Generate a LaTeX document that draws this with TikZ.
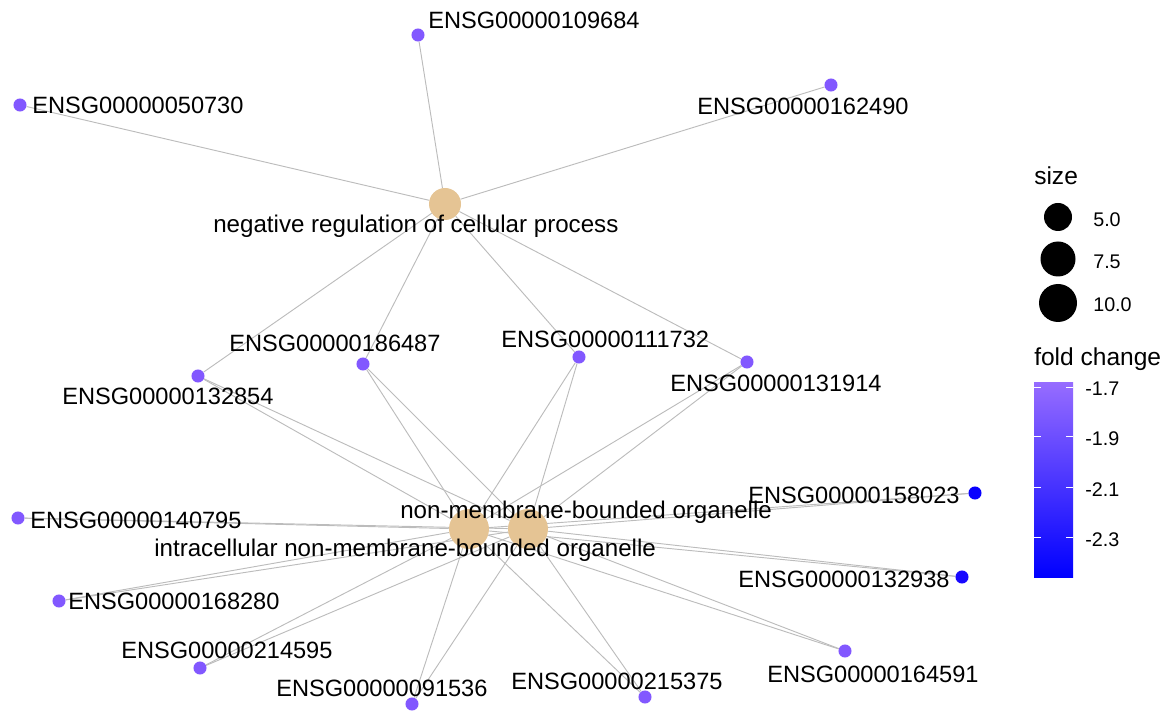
\documentclass[tikz,border=0pt]{standalone}
\usepackage{fontspec}
\setmainfont{Liberation Sans}
\pgfdeclarelayer{bg}
\pgfsetlayers{bg,main}
\definecolor{genecol}{RGB}{130,88,255}
\definecolor{bluea}{RGB}{8,0,255}
\definecolor{blueb}{RGB}{24,8,255}
\definecolor{catcol}{RGB}{229,196,148}
\definecolor{edgecol}{RGB}{188,188,188}
\definecolor{bartop}{RGB}{150,108,255}
\begin{document}
\begin{tikzpicture}[x=0.75pt,y=-0.75pt,
  gene/.style={circle, fill=genecol, minimum size=9.8pt, inner sep=0pt},
  cat/.style={circle, fill=catcol, inner sep=0pt},
  lab/.style={anchor=base west, inner sep=0pt, font=\fontsize{17.7}{20}\selectfont},
  catlab/.style={anchor=base west, inner sep=0pt, font=\fontsize{18.1}{20}\selectfont},
  edge/.style={draw=edgecol, line width=0.7pt},
  legtitle/.style={anchor=base west, inner sep=0pt, font=\fontsize{18.4}{21}\selectfont},
  leglab/.style={anchor=west, inner sep=0pt, font=\fontsize{14.8}{17}\selectfont},
  legdot/.style={circle, fill=black, inner sep=0pt},
  tickmark/.style={draw=white, line width=0.7pt}]
\useasboundingbox (0,0) rectangle (1170,712);

% category nodes
\node[cat, minimum size=24pt] (nr) at (445,204) {};
\node[cat, minimum size=30pt] (inb) at (469,529) {};
\node[cat, minimum size=30pt] (nmb) at (528,529) {};

% gene nodes
\node[gene] (g109684) at (418,35) {};
\node[gene] (g050730) at (20,105) {};
\node[gene] (g162490) at (831,85) {};
\node[gene] (g186487) at (363,364) {};
\node[gene] (g111732) at (579,357) {};
\node[gene] (g132854) at (198,376) {};
\node[gene] (g131914) at (747,362) {};
\node[gene] (g140795) at (18,518) {};
\node[gene] (g168280) at (59,601) {};
\node[gene] (g214595) at (200,668) {};
\node[gene] (g091536) at (412,704) {};
\node[gene] (g215375) at (645,697) {};
\node[gene] (g164591) at (845,651) {};
\node[gene, fill=blueb] (g132938) at (962,577) {};
\node[gene, fill=bluea] (g158023) at (975,493) {};

% edges
\begin{pgfonlayer}{bg}
\foreach \g in {g109684,g050730,g162490,g186487,g111732,g132854,g131914}
  \draw[edge] (\g) -- (nr);
\foreach \g in {g186487,g111732,g132854,g131914,g140795,g168280,g214595,g091536,g215375,g164591,g132938,g158023}{
  \draw[edge] (\g) -- (inb);
  \draw[edge] (\g) -- (nmb);
}
\end{pgfonlayer}

% labels
\node[lab] (l109684) at (428,29) {ENSG00000109684};
\node[lab] (l050730) at (32,114) {ENSG00000050730};
\node[lab] (l162490) at (697,115) {ENSG00000162490};
\node[catlab] (lnr) at (213,233) {negative regulation of cellular process};
\node[lab] (l186487) at (229,352) {ENSG00000186487};
\node[lab] (l111732) at (501,348) {ENSG00000111732};
\node[lab] (l132854) at (62,405) {ENSG00000132854};
\node[lab] (l131914) at (670,392) {ENSG00000131914};
\node[lab] (l158023) at (748,503) {ENSG00000158023};
\node[catlab] (lnmb) at (400,518) {non-membrane-bounded organelle};
\node[lab] (l140795) at (30,528) {ENSG00000140795};
\node[catlab] (linb) at (154,556) {intracellular non-membrane-bounded organelle};
\node[lab] (l132938) at (738,587) {ENSG00000132938};
\node[lab] (l168280) at (68,609) {ENSG00000168280};
\node[lab] (l214595) at (121,658) {ENSG00000214595};
\node[lab] (l164591) at (767,682) {ENSG00000164591};
\node[lab] (l091536) at (276,696) {ENSG00000091536};
\node[lab] (l215375) at (511,689) {ENSG00000215375};

% legend: size
\node[legtitle] (tsize) at (1034,185) {size};
\node[legdot, minimum size=21pt] (s1) at (1058,217) {};
\node[legdot, minimum size=26.25pt] (s2) at (1058,259) {};
\node[legdot, minimum size=28.5pt] (s3) at (1058,303) {};
\node[leglab] (ls1) at (1093,220) {5.0};
\node[leglab] (ls2) at (1093,262) {7.5};
\node[leglab] (ls3) at (1093,305) {10.0};

% legend: fold change
\node[legtitle] (tfc) at (1034,366) {fold change};
\node[rectangle, top color=bartop, bottom color=blue, minimum width=29.25pt, minimum height=145.5pt, inner sep=0pt, draw=none] (bar) at (1053.5,480) {};
\foreach \y in {387,436,487,537}{
  \draw[tickmark] (1034,\y) -- (1041,\y);
  \draw[tickmark] (1066,\y) -- (1073,\y);
}
\node[leglab] (lf1) at (1085,389) {-1.7};
\node[leglab] (lf2) at (1085,439) {-1.9};
\node[leglab] (lf3) at (1085,490) {-2.1};
\node[leglab] (lf4) at (1085,540) {-2.3};
\end{tikzpicture}
\end{document}
